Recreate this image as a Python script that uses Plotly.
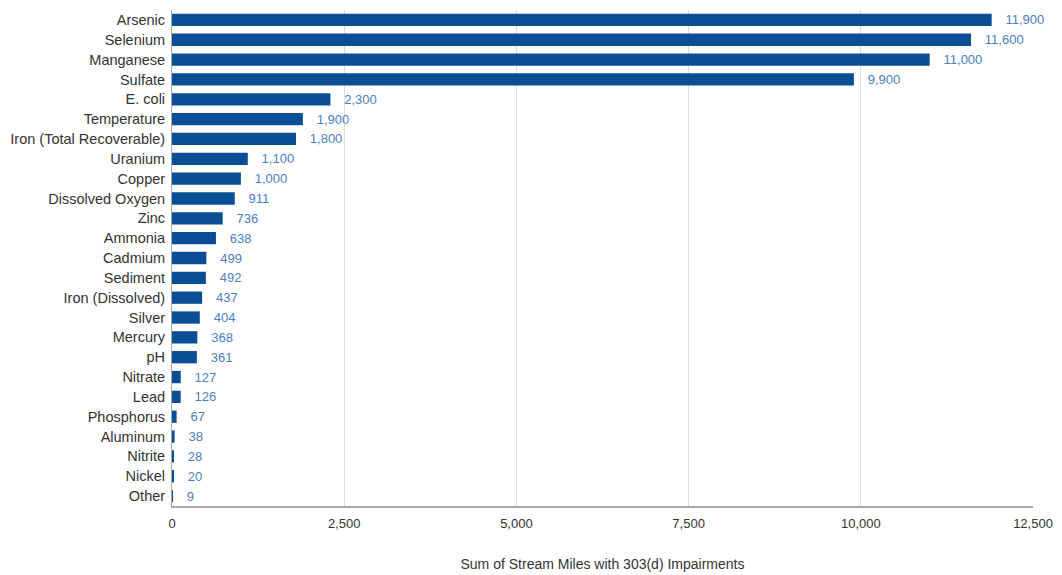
import plotly.graph_objects as go

categories = ["Arsenic", "Selenium", "Manganese", "Sulfate", "E. coli", "Temperature",
              "Iron (Total Recoverable)", "Uranium", "Copper", "Dissolved Oxygen", "Zinc",
              "Ammonia", "Cadmium", "Sediment", "Iron (Dissolved)", "Silver", "Mercury",
              "pH", "Nitrate", "Lead", "Phosphorus", "Aluminum", "Nitrite", "Nickel", "Other"]
values = [11900, 11600, 11000, 9900, 2300, 1900, 1800, 1100, 1000, 911, 736, 638, 499,
          492, 437, 404, 368, 361, 127, 126, 67, 38, 28, 20, 9]
x_ticks = [0, 2500, 5000, 7500, 10000, 12500]

fig = go.Figure(go.Bar(
    x=values, y=categories, orientation="h",
    marker=dict(color="#0a4f95", line=dict(width=0)),
    text=[f"   {v:,}" for v in values],
    textposition="outside", cliponaxis=False, constraintext="none",
    textfont=dict(color="#4a7fc0", size=13, family="Liberation Sans, Arial"),
    hoverinfo="skip",
))

fig.update_layout(
    width=1062, height=575,
    margin=dict(l=172, r=29, t=10, b=69),
    paper_bgcolor="white", plot_bgcolor="white",
    bargap=0.38,
    showlegend=False,
    font=dict(family="Liberation Sans, Arial", color="#333333", size=12),
    xaxis=dict(
        range=[0, 12500], tickvals=x_ticks, tickformat=",",
        showgrid=True, gridcolor="#dddddd", gridwidth=1,
        showline=True, linecolor="#aaaaaa", linewidth=2,
        zeroline=False, ticks="", ticklabelstandoff=4, automargin=False,
        tickfont=dict(size=13, color="#333333"),
        title=dict(text="Sum of Stream Miles with 303(d) Impairments",
                   font=dict(size=14, color="#333333"), standoff=30),
    ),
    yaxis=dict(
        categoryorder="array", categoryarray=categories, autorange="reversed",
        showline=True, linecolor="#aaaaaa", linewidth=1, automargin=False,
        ticks="", ticklabelstandoff=3, tickfont=dict(size=14.5, color="#333333"),
        showgrid=False,
    ),
)

fig.write_html("out.html")
